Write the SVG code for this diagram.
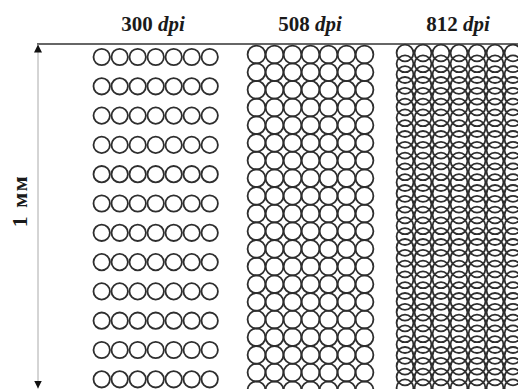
<svg xmlns="http://www.w3.org/2000/svg" xmlns:xlink="http://www.w3.org/1999/xlink" width="518" height="389" viewBox="0 0 518 389">
<style>
.lbl{font-family:"Liberation Serif","Times New Roman",serif;font-weight:bold;font-size:21px;fill:#1a1a1a}
.it{font-style:italic}
.dot{fill:none;stroke:#2e2e2e;stroke-width:1.8}
</style>
<defs>
<marker id="ah" viewBox="0 0 10 10" refX="10" refY="5" markerWidth="8" markerHeight="8" markerUnits="userSpaceOnUse" orient="auto-start-reverse">
<path d="M0,0 L10,5 L0,10 Z" fill="#111"/>
</marker>
<circle id="c300" class="dot" r="8.2"/>
<circle id="c508" class="dot" r="8.9"/>
<circle id="c812" class="dot" r="8.4"/>
<g id="row300"><use xlink:href="#c300" x="0"/><use xlink:href="#c300" x="18"/><use xlink:href="#c300" x="36"/><use xlink:href="#c300" x="54"/><use xlink:href="#c300" x="72"/><use xlink:href="#c300" x="90"/><use xlink:href="#c300" x="108"/></g>
<g id="row508"><use xlink:href="#c508" x="0"/><use xlink:href="#c508" x="18"/><use xlink:href="#c508" x="36"/><use xlink:href="#c508" x="54"/><use xlink:href="#c508" x="72"/><use xlink:href="#c508" x="90"/><use xlink:href="#c508" x="108"/></g>
<g id="row812"><use xlink:href="#c812" x="0"/><use xlink:href="#c812" x="18"/><use xlink:href="#c812" x="36"/><use xlink:href="#c812" x="54"/><use xlink:href="#c812" x="72"/><use xlink:href="#c812" x="90"/><use xlink:href="#c812" x="108"/></g>
</defs>
<rect width="518" height="389" fill="#fff"/>

<g id="labels">
<text class="lbl" x="153" y="31" text-anchor="middle">300 <tspan class="it">dpi</tspan></text>
<text class="lbl" x="310" y="31" text-anchor="middle">508 <tspan class="it">dpi</tspan></text>
<text class="lbl" x="458" y="31" text-anchor="middle">812 <tspan class="it">dpi</tspan></text>
<text class="lbl" transform="translate(27,201) rotate(-90)" text-anchor="middle" style="font-size:22px;letter-spacing:1.5px">1 мм</text>
</g>

<g id="dots300" transform="translate(101.7,0)">
<use xlink:href="#row300" y="57"/><use xlink:href="#row300" y="86.3"/><use xlink:href="#row300" y="115.6"/><use xlink:href="#row300" y="144.9"/><use xlink:href="#row300" y="174.2"/><use xlink:href="#row300" y="203.5"/><use xlink:href="#row300" y="232.8"/><use xlink:href="#row300" y="262.1"/><use xlink:href="#row300" y="291.4"/><use xlink:href="#row300" y="320.7"/><use xlink:href="#row300" y="350"/><use xlink:href="#row300" y="379.3"/>
</g>

<g id="dots508" transform="translate(256.5,0)">
<use xlink:href="#row508" y="54.5"/><use xlink:href="#row508" y="72.2"/><use xlink:href="#row508" y="89.8"/><use xlink:href="#row508" y="107.5"/><use xlink:href="#row508" y="125.2"/><use xlink:href="#row508" y="142.9"/><use xlink:href="#row508" y="160.5"/><use xlink:href="#row508" y="178.2"/><use xlink:href="#row508" y="195.9"/><use xlink:href="#row508" y="213.5"/><use xlink:href="#row508" y="231.2"/><use xlink:href="#row508" y="248.9"/><use xlink:href="#row508" y="266.5"/><use xlink:href="#row508" y="284.2"/><use xlink:href="#row508" y="301.9"/><use xlink:href="#row508" y="319.6"/><use xlink:href="#row508" y="337.2"/><use xlink:href="#row508" y="354.9"/><use xlink:href="#row508" y="372.6"/><use xlink:href="#row508" y="390.2"/>
</g>

<g id="dots812" transform="translate(405,0)">
<use xlink:href="#row812" y="53"/><use xlink:href="#row812" y="63.8"/><use xlink:href="#row812" y="74.6"/><use xlink:href="#row812" y="85.4"/><use xlink:href="#row812" y="96.2"/><use xlink:href="#row812" y="107"/><use xlink:href="#row812" y="117.8"/><use xlink:href="#row812" y="128.6"/><use xlink:href="#row812" y="139.4"/><use xlink:href="#row812" y="150.2"/><use xlink:href="#row812" y="161"/><use xlink:href="#row812" y="171.8"/><use xlink:href="#row812" y="182.6"/><use xlink:href="#row812" y="193.4"/><use xlink:href="#row812" y="204.2"/><use xlink:href="#row812" y="215"/><use xlink:href="#row812" y="225.8"/><use xlink:href="#row812" y="236.6"/><use xlink:href="#row812" y="247.4"/><use xlink:href="#row812" y="258.2"/><use xlink:href="#row812" y="269"/><use xlink:href="#row812" y="279.8"/><use xlink:href="#row812" y="290.6"/><use xlink:href="#row812" y="301.4"/><use xlink:href="#row812" y="312.2"/><use xlink:href="#row812" y="323"/><use xlink:href="#row812" y="333.8"/><use xlink:href="#row812" y="344.6"/><use xlink:href="#row812" y="355.4"/><use xlink:href="#row812" y="366.2"/><use xlink:href="#row812" y="377"/><use xlink:href="#row812" y="387.8"/>
</g>

<g id="connectors">
<line x1="37" y1="44" x2="518" y2="44" stroke="#333" stroke-width="1.6"/>
<line x1="38" y1="44.5" x2="38" y2="388.5" stroke="#aaa" stroke-width="1" marker-start="url(#ah)" marker-end="url(#ah)"/>
</g>
</svg>
